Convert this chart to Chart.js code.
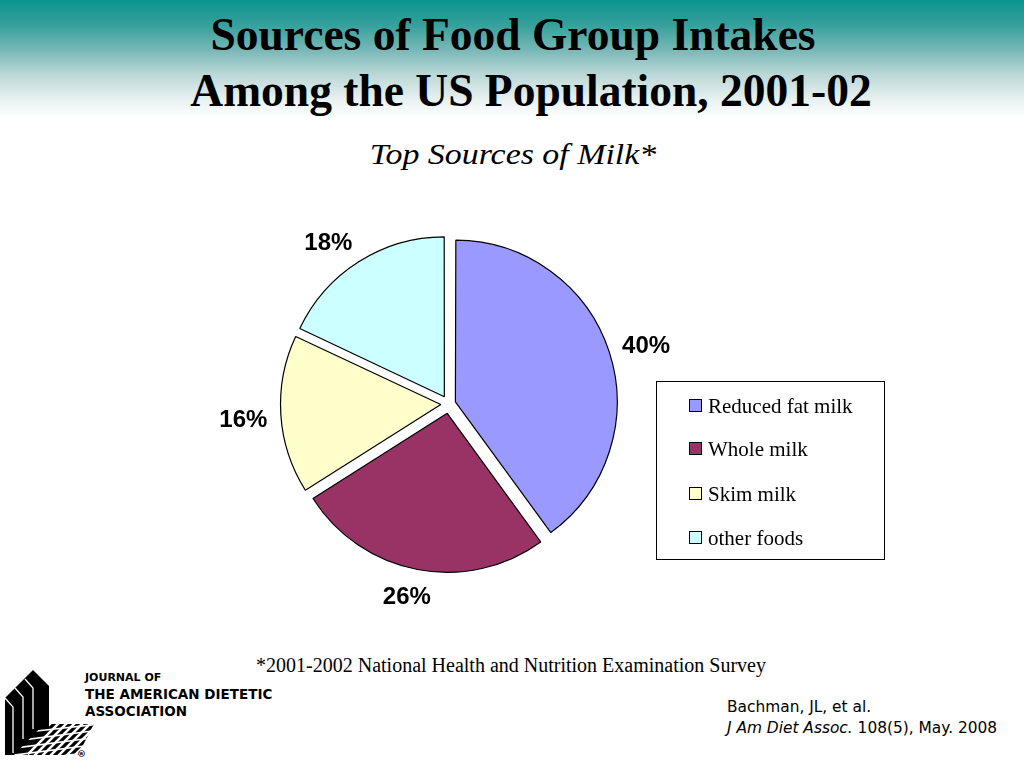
<!DOCTYPE html>
<html>
<head>
<meta charset="utf-8">
<script src="https://cdn.jsdelivr.net/npm/chart.js@4/dist/chart.umd.min.js"></script>
<style>
  html, body { margin:0; padding:0; width:1024px; height:768px; overflow:hidden; background:#fff; }
  #bg { position:absolute; left:0; top:0; width:1024px; height:120px;
        background:linear-gradient(to bottom, #0b948f 0px, #36a09c 25px, #78b8b6 50px, #bcd8d7 75px, #e9f1f1 100px, #ffffff 118px); }
  .t { position:absolute; white-space:nowrap; color:#000; }
  #t1 { left:0; width:1026px; text-align:center; top:12px; font:bold 45.5px/45.5px "Liberation Serif", "Times New Roman", serif; }
  #t2 { left:0; width:1062px; text-align:center; top:68px; font:bold 45.5px/45.5px "Liberation Serif", "Times New Roman", serif; }
  #sub { left:0; width:1026px; text-align:center; top:139px; font:italic 30px/30px "Liberation Serif", "Times New Roman", serif; transform:scaleX(1.13); transform-origin:513px 0; }
  #foot { left:0; width:1022px; text-align:center; top:654px; font:20px "Liberation Serif", serif; }
  #cite { left:727px; top:697px; font:15.4px "DejaVu Sans", Verdana, sans-serif; line-height:21px; }
  #j1 { left:85px; top:671px; font:bold 11px "DejaVu Sans", Verdana, sans-serif; }
  #j2 { left:85px; top:686px; font:bold 13.5px "DejaVu Sans", Verdana, sans-serif; line-height:17px; }
  canvas { position:absolute; left:0; top:0; }
  svg { position:absolute; left:0; top:660px; }
</style>
</head>
<body>
<div id="bg"></div>
<div class="t" id="t1">Sources of Food Group Intakes</div>
<div class="t" id="t2">Among the US Population, 2001-02</div>
<div class="t" id="sub">Top Sources of Milk*</div>
<div class="t" id="foot">*2001-2002 National Health and Nutrition Examination Survey</div>
<div class="t" id="cite">Bachman, JL, et al.<br><i>J Am Diet Assoc.</i> 108(5), May. 2008</div>
<div class="t" id="j1">JOURNAL OF</div>
<div class="t" id="j2">THE AMERICAN DIETETIC<br>ASSOCIATION</div>
<svg width="100" height="108" viewBox="0 660 100 108">
  <defs>
    <clipPath id="gridclip">
      <polygon points="14,755 44,724 94,724 78,755"/>
    </clipPath>
  </defs>
  <polygon points="5,698 33,670 49,686 49,728 28,748 28,755 5,755" fill="#000"/>
  <g stroke="#fff" stroke-width="1.3" fill="none">
    <polyline points="5,698 13,707 13,753"/>
    <polyline points="15,688 23,697 23,739"/>
    <polyline points="25,679 33,688 33,729"/>
  </g>
  <g clip-path="url(#gridclip)">
    <g stroke="#000" stroke-width="3.2">
      <line x1="10" y1="760" x2="50" y2="720"/>
      <line x1="18" y1="760" x2="58" y2="720"/>
      <line x1="26" y1="760" x2="66" y2="720"/>
      <line x1="34" y1="760" x2="74" y2="720"/>
      <line x1="42" y1="760" x2="82" y2="720"/>
      <line x1="50" y1="760" x2="90" y2="720"/>
      <line x1="58" y1="760" x2="98" y2="720"/>
      <line x1="66" y1="760" x2="106" y2="720"/>
      <line x1="74" y1="760" x2="114" y2="720"/>
    </g>
    <g stroke="#fff" stroke-width="1.6">
      <line x1="0" y1="735" x2="100" y2="724"/>
      <line x1="0" y1="743" x2="100" y2="730"/>
      <line x1="0" y1="750" x2="100" y2="737"/>
      <line x1="0" y1="757" x2="100" y2="744"/>
      <line x1="0" y1="764" x2="100" y2="751"/>
    </g>
  </g>
  <text x="77" y="757" font-family="DejaVu Sans" font-size="9" font-weight="bold">®</text>
</svg>
<canvas id="c" width="1024" height="768"></canvas>
<script>
const categories = ["Reduced fat milk", "Whole milk", "Skim milk", "other foods"];
const shares = [40, 26, 16, 18];
const sliceColors = ["#9999FF", "#993366", "#FFFFCC", "#CCFFFF"];

const EXPLODE = 9.5;
function sliceOffset(c) {
  const data = c.dataset.data;
  const total = data.reduce((a, b) => a + b, 0);
  const circ = data[c.dataIndex] / total * 2 * Math.PI;
  const fix = 1 - Math.sin(Math.min(Math.PI, circ));
  return 4 * EXPLODE / (1 + fix);
}

function clamp1(v) { return Math.max(-1, Math.min(1, v)); }

const labelPlugin = {
  id: 'pieLabels',
  afterDatasetsDraw(chart) {
    const ctx = chart.ctx;
    const meta = chart.getDatasetMeta(0);
    ctx.save();
    ctx.font = 'bold 24px "Liberation Sans", Arial, sans-serif';
    ctx.fillStyle = '#000';
    ctx.textAlign = 'center';
    ctx.textBaseline = 'middle';
    meta.data.forEach((arc, i) => {
      const p = arc.getProps(['x','y','startAngle','endAngle','outerRadius'], true);
      const mid = (p.startAngle + p.endAngle) / 2;
      const txt = shares[i] + '%';
      const w = ctx.measureText(txt).width, h = 21;
      const r = p.outerRadius + 23;
      const cx = p.x + Math.cos(mid) * r + w / 2 * clamp1(Math.cos(mid) * 1.8);
      const cy = p.y + Math.sin(mid) * r + h / 2 * clamp1(Math.sin(mid) * 1.8);
      ctx.fillText(txt, cx, cy + 4);
    });
    ctx.restore();
  }
};

const legendPlugin = {
  id: 'boxLegend',
  afterDraw(chart) {
    const ctx = chart.ctx;
    const x0 = 656.5, y0 = 381.5, w = 228, h = 178;
    ctx.save();
    ctx.strokeStyle = '#000';
    ctx.lineWidth = 1;
    ctx.strokeRect(x0, y0, w, h);
    ctx.font = '21px "Liberation Serif", "Times New Roman", serif';
    ctx.textBaseline = 'middle';
    ctx.textAlign = 'left';
    const rows = [406, 449, 494, 538];
    chart.data.labels.forEach((lab, i) => {
      const cy = rows[i];
      ctx.fillStyle = chart.data.datasets[0].backgroundColor[i];
      ctx.fillRect(689.5, cy - 6.5, 12, 12);
      ctx.strokeRect(689.5, cy - 6.5, 12, 12);
      ctx.fillStyle = '#000';
      ctx.fillText(lab, 708, cy + 1);
    });
    ctx.restore();
  }
};

new Chart(document.getElementById('c'), {
  type: 'pie',
  data: {
    labels: categories,
    datasets: [{
      data: shares,
      backgroundColor: sliceColors,
      borderColor: '#000',
      borderWidth: 1.2,
      offset: sliceOffset,
      borderAlign: 'center'
    }]
  },
  options: {
    responsive: false,
    animation: false,
    radius: 159,
    layout: { padding: { left: 249, right: 375, top: 204, bottom: 164 } },
    plugins: { legend: { display: false }, tooltip: { enabled: false }, title: { display: false } }
  },
  plugins: [labelPlugin, legendPlugin]
});
</script>
</body>
</html>
